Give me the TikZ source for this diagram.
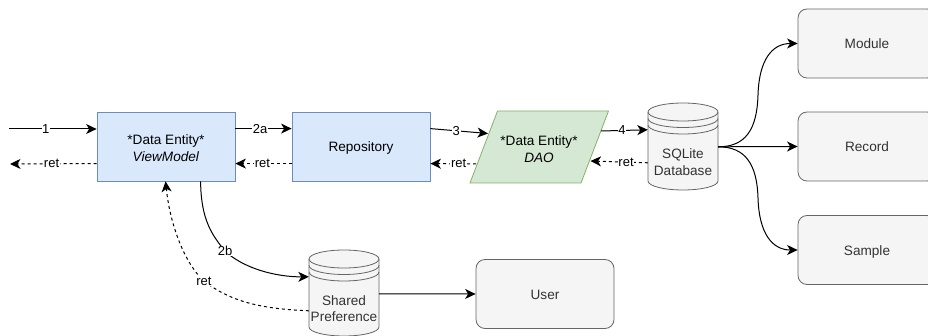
\documentclass[tikz,border=0pt]{standalone}
\usepackage{fontspec}
\setmainfont{Liberation Sans}
\usetikzlibrary{arrows.meta,calc}
\definecolor{bluefill}{HTML}{DAE8FC}\definecolor{bluedraw}{HTML}{6C8EBF}
\definecolor{greenfill}{HTML}{D5E8D4}\definecolor{greendraw}{HTML}{82B366}
\definecolor{greyfill}{HTML}{F5F5F5}\definecolor{greydraw}{HTML}{666666}
\definecolor{greytext}{HTML}{333333}
\newcommand{\lowered}{\rule{0pt}{13pt}}
\tikzset{
 txt/.style={font=\fontsize{13.6}{16.5}\selectfont,align=center,inner sep=0pt},
 oneline/.style={text height=13pt,text depth=2.6pt},
 bluebox/.style={txt,draw=bluedraw,fill=bluefill,minimum width=138pt,minimum height=69pt,line width=.8pt},
 greybox/.style={txt,oneline,draw=greydraw,fill=greyfill,text=greytext,rounded corners=9pt,minimum width=138pt,minimum height=69pt,line width=.8pt},
 flow/.style={black,line width=1pt,-{Stealth[length=10.5pt,width=10pt,inset=3pt]}},
 backflow/.style={flow,dash pattern=on 3pt off 3pt},
 lab/.style={font=\fontsize{13}{15}\selectfont,fill=white,inner sep=.6pt,text=black},
 cylshape/.style={draw=greydraw,fill=greyfill,line width=.8pt},
 slab/.style={txt,text=greytext},
 hold/.style={minimum width=70pt,inner sep=0pt,draw=none},
}
\newcommand{\datastore}[5]{% name, left x, top y, height, text
 \begin{scope}[shift={(#2,#3)}]
  \draw[cylshape] (0,9) arc[start angle=180,end angle=0,x radius=35pt,y radius=9pt] -- (70,#4-9) arc[start angle=360,end angle=180,x radius=35pt,y radius=9pt] -- cycle;
  \draw[cylshape,fill=none] (0,9) arc[start angle=180,end angle=360,x radius=35pt,y radius=9pt];
  \draw[cylshape,fill=none] (0,15.5) arc[start angle=180,end angle=360,x radius=35pt,y radius=9pt];
  \draw[cylshape,fill=none] (0,22) arc[start angle=180,end angle=360,x radius=35pt,y radius=9pt];
  \node[hold,minimum height=#4 pt] (#1) at (35,#4/2) {};
  \node[slab] (#1T) at (35,#4/2+15.5) {#5};
 \end{scope}}
\begin{document}
\begin{tikzpicture}[x=1pt,y=-1pt]
\useasboundingbox (0,0) rectangle (928,336);
\node[bluebox] (vm) at (166,146.5) {\lowered *Data Entity*\\\textit{ViewModel}};
\node[bluebox,oneline] (repo) at (361,146.5) {Repository};
\coordinate (dtl) at (497.5,111);\coordinate (dtr) at (608.5,111);\coordinate (dbr) at (581,183);\coordinate (dbl) at (470,183);
\draw[draw=greendraw,fill=greenfill,line width=.8pt] (dtl) -- (dtr) -- (dbr) -- (dbl) -- cycle;
\node[txt] (dao) at (539,147.5) {\lowered *Data Entity*\\\textit{DAO}};
\datastore{db}{648}{103}{87}{SQLite\\Database}
\datastore{sp}{309}{250}{86}{Shared\\Preference}
\node[greybox] (module) at (867,43.5) {Module};
\node[greybox] (record) at (867,146.5) {Record};
\node[greybox] (sample) at (867,250) {Sample};
\node[greybox] (user) at (545,294) {User};
\coordinate (in1) at (9,129);\coordinate (out1) at (10,164);
\coordinate (daoIn) at (488,133.5);\coordinate (daoOutA) at (601,131);
\coordinate (daoRetIn) at (590.5,161);\coordinate (daoRetOut) at (476,164);
\draw[flow] (in1) -- node[lab,pos=.42]{1} (vm.west |- in1);
\draw[backflow] ($(vm.north west)+(0,52)$) -- node[lab,pos=.52]{ret} (out1);
\draw[flow] ($(vm.north east)+(0,17)$) -- node[lab,pos=.44]{2a} ($(repo.north west)+(0,17)$);
\draw[backflow] ($(repo.north west)+(0,52)$) -- node[lab,pos=.52]{ret} ($(vm.north east)+(0,52)$);
\draw[flow] ($(repo.north east)+(0,17)$) -- node[lab,pos=.45]{3} (daoIn);
\draw[backflow] (daoRetOut) -- node[lab,pos=.38]{ret} ($(repo.north east)+(0,52)$);
\draw[flow] (daoOutA) -- node[lab,pos=.45]{4} ($(db.north west)+(0,27)$);
\draw[backflow] ($(db.north west)+(0,60)$) -- node[lab,pos=.38]{ret} (daoRetIn);
\coordinate (dbOut) at ($(db.north east)+(0,44)$);
\draw[flow] (dbOut) .. controls +(27,0) and (757,130) .. (758,95) .. controls (759,60) and (772,43.5) .. (module.west);
\draw[flow] (dbOut) -- (record.west);
\draw[flow] (dbOut) .. controls +(27,0) and (757,164) .. (758,198) .. controls (759,233) and (772,250) .. (sample.west);
\coordinate (vmDown) at ($(vm.south west)+(104,0)$);
\coordinate (vmUp) at ($(vm.south west)+(69,0)$);
\draw[flow] (vmDown) .. controls (201,220) and (212,235) .. (225,251) node[lab]{2b} .. controls (243,268) and (275,277) .. ($(sp.north west)+(0,27)$);
\draw[backflow] ($(sp.north west)+(0,61)$) .. controls (265,309) and (232,303) .. (204,281) .. controls (185,264) and (170,225) .. (vmUp);
\node[lab] (retl) at (204,281) {ret};
\draw[flow] ($(sp.north east)+(0,44)$) -- (user.west);
\end{tikzpicture}
\end{document}
